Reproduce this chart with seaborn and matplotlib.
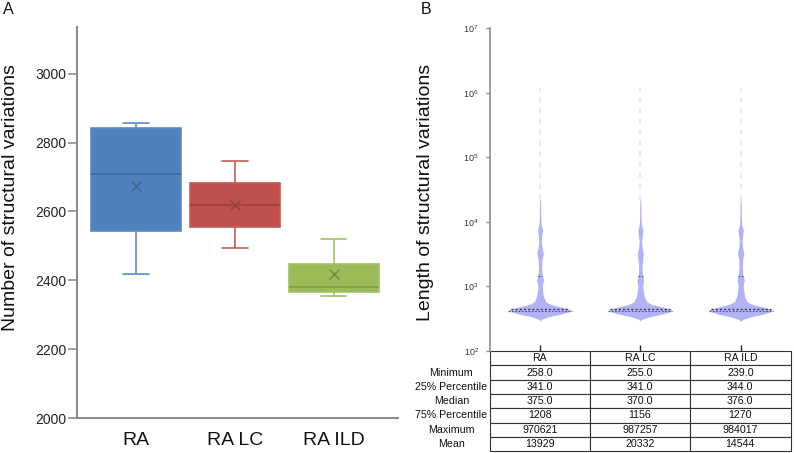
import numpy as np
import pandas as pd
import matplotlib
matplotlib.use("Agg")
import matplotlib.pyplot as plt
import seaborn as sns

# ---- panel A: number of structural variations (five-number summaries)
groups = ["RA", "RA LC", "RA ILD"]
box_min = [2419, 2493, 2355]
box_q1 = [2543, 2556, 2366]
box_med = [2709, 2620, 2380]
box_q3 = [2841, 2684, 2448]
box_max = [2858, 2747, 2519]
box_mean = [2674, 2620, 2417]

fill_colors = ["#4f81bd", "#c0504d", "#9bbb59"]
line_colors = ["#5b8bc7", "#c45a57", "#a3c266"]
median_colors = ["#3b67a2", "#9c3e3b", "#7f9c48"]
mean_colors = ["#3f6592", "#8e3e3c", "#6f8a40"]

# ---- panel B: violin outline (log10 length vs half width)
violin_log = [2.46, 2.49, 2.53, 2.57, 2.62, 2.65, 2.69, 2.72, 2.76, 2.84, 2.94,
              3.02, 3.10, 3.18, 3.30, 3.42, 3.51, 3.60, 3.69, 3.80, 3.87, 3.95,
              4.03, 4.34]
violin_hw = {
    "RA":     [0.0, 0.01, 0.08, 0.20, 0.32, 0.29, 0.19, 0.11, 0.06, 0.035, 0.025,
               0.022, 0.035, 0.02, 0.015, 0.02, 0.033, 0.02, 0.012, 0.018, 0.025,
               0.012, 0.008, 0.005],
    "RA LC":  [0.0, 0.01, 0.09, 0.21, 0.32, 0.30, 0.20, 0.12, 0.065, 0.04, 0.028,
               0.024, 0.034, 0.02, 0.016, 0.024, 0.03, 0.018, 0.012, 0.02, 0.026,
               0.012, 0.008, 0.005],
    "RA ILD": [0.0, 0.02, 0.10, 0.22, 0.32, 0.30, 0.20, 0.12, 0.065, 0.04, 0.03,
               0.025, 0.036, 0.022, 0.016, 0.02, 0.032, 0.02, 0.013, 0.02, 0.026,
               0.012, 0.008, 0.005],
}
violin_top_log = [6.07, 6.07, 6.07]
violin_quart_log = [2.62, 2.65, 3.16]

# ---- table under panel B
row_labels = ["Minimum", "25% Percentile", "Median", "75% Percentile", "Maximum", "Mean"]
tab_ra = ["258.0", "341.0", "375.0", "1208", "970621", "13929"]
tab_lc = ["255.0", "341.0", "370.0", "1156", "987257", "20332"]
tab_ild = ["239.0", "344.0", "376.0", "1270", "984017", "14544"]

sns.set_theme(style="white")
plt.rcParams["font.family"] = ["Liberation Sans", "DejaVu Sans"]

fig = plt.figure(figsize=(7.94, 4.53), dpi=100)
axA = fig.add_axes([0.097, 0.077, 0.404, 0.863])
axB = fig.add_axes([0.617, 0.225, 0.379, 0.713])

# long table of the box summaries
box_df = pd.DataFrame({
    "group": np.repeat(groups, 5),
    "value": np.column_stack([box_min, box_q1, box_med, box_q3, box_max]).ravel(),
})

for i, g in enumerate(groups):
    sns.boxplot(data=box_df[box_df["group"] == g], x="group", y="value", order=groups,
                color=fill_colors[i], linecolor=line_colors[i], saturation=1,
                width=0.91, whis=(0, 100), linewidth=1.2, capwidths=0.26,
                medianprops={"color": median_colors[i], "linewidth": 1.2},
                ax=axA)
    axA.plot(i, box_mean[i], marker="x", color=mean_colors[i], markersize=7,
             markeredgewidth=1.0, linestyle="none")

axA.set_xlim(-0.6, 2.65)
axA.set_ylim(2000, 3135)
axA.set_yticks(range(2000, 3001, 200))
axA.set_xlabel("")
axA.set_ylabel("")
for side in ["top", "right"]:
    axA.spines[side].set_visible(False)
for side in ["left", "bottom"]:
    axA.spines[side].set_color("#8c8c8c")
    axA.spines[side].set_linewidth(1.5)
axA.tick_params(axis="y", left=True, length=6.5, width=1.2, color="#8c8c8c",
                pad=1, labelsize=10, labelcolor="#222222")
axA.tick_params(axis="x", bottom=False, pad=4, labelsize=14, labelcolor="#111111")

# violins
violin_color = "#b2b2f6"
ys = 10 ** np.array(violin_log)
for i, g in enumerate(groups):
    hw = np.array(violin_hw[g])
    axB.fill_betweenx(ys, i - hw, i + hw, color=violin_color, linewidth=0)
    axB.plot([i, i], [10 ** violin_log[-1], 10 ** violin_top_log[i]],
             color=violin_color, alpha=0.3, linewidth=1.3,
             linestyle=(0, (3, 3)))
    for k, q in enumerate(violin_quart_log):
        w = np.interp(q, violin_log, hw)
        axB.plot([i - w, i + w], [10 ** q, 10 ** q], color="#3a3a5a",
                 linewidth=0.8 if k != 1 else 1.0,
                 linestyle=(0, (1.5, 1.5)), alpha=0.8 if k != 1 else 1.0)

axB.set_yscale("log")
axB.set_ylim(1e2, 1e7)
axB.set_xlim(-0.5, 2.5)
axB.set_xticks(range(3))
axB.set_xticklabels([])
axB.yaxis.set_minor_locator(matplotlib.ticker.NullLocator())
axB.set_yticks([1e2, 1e3, 1e4, 1e5, 1e6, 1e7])
for side in ["top", "right", "bottom"]:
    axB.spines[side].set_visible(False)
axB.spines["left"].set_color("#8c8c8c")
axB.spines["left"].set_linewidth(1.2)
axB.tick_params(axis="y", left=True, length=3, width=1, color="#8c8c8c",
                pad=5, labelsize=6.5, labelcolor="#333333")
axB.tick_params(axis="x", bottom=True, direction="in", length=4, width=1,
                color="#222222")

cell_text = [["", "RA", "RA LC", "RA ILD"]]
for k, lab in enumerate(row_labels):
    cell_text.append([lab, tab_ra[k], tab_lc[k], tab_ild[k]])

tab = axB.table(cellText=cell_text, cellLoc="center",
                colWidths=[77 / 378, 100 / 378, 100 / 378, 101 / 378],
                bbox=[-0.256, -0.310, 1.256, 0.310])
tab.auto_set_font_size(False)
tab.set_fontsize(7.7)
for (r, c), cell in tab.get_celld().items():
    cell.set_edgecolor("#333333")
    cell.set_linewidth(0.8)
    cell.get_text().set_color("#111111")
    if c == 0:
        cell.visible_edges = ""

fig.text(11 / 794, 1 - 198 / 453, "Number of structural variations", rotation=90,
         ha="center", va="center", fontsize=14, color="#111111")
fig.text(426 / 794, 1 - 192 / 453, "Length of structural variations", rotation=90,
         ha="center", va="center", fontsize=14, color="#111111")
fig.text(0.004, 0.996, "A", ha="left", va="top", fontsize=11.5, color="#111111")
fig.text(0.530, 0.996, "B", ha="left", va="top", fontsize=11.5, color="#111111")

fig.savefig("out.png", dpi=100)
